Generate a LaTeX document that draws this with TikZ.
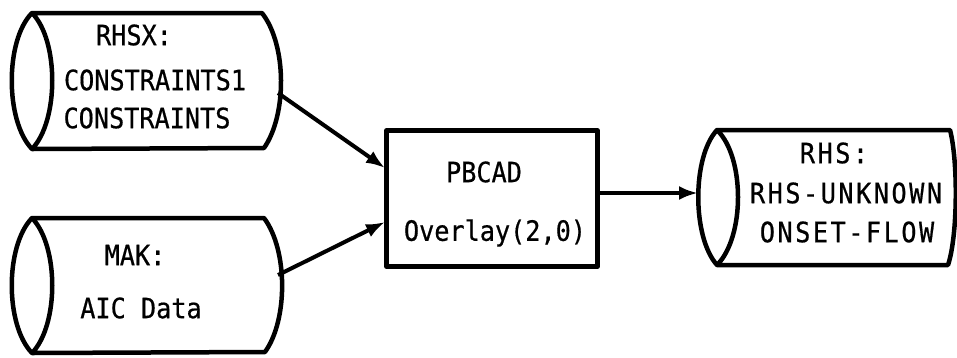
\documentclass[tikz,border=0pt]{standalone}
\usepackage{fontspec}
\newfontfamily\diagfont[FakeStretch=0.9,FakeBold=0.6]{DejaVu Sans Mono}
\newfontfamily\diagfontwide[FakeStretch=0.9,FakeBold=0.6,LetterSpace=9]{DejaVu Sans Mono}
\usetikzlibrary{arrows.meta}
\tikzset{
  outline/.style={line width=4.5pt, line join=round, line cap=round},
  lbl/.style={inner sep=0pt, font=\diagfont\fontsize{28}{30}\selectfont},
  lblwide/.style={inner sep=0pt, font=\diagfontwide\fontsize{28}{30}\selectfont},
  conn/.style={line width=4pt, -{Latex[length=19pt,width=14pt]}},
}
\begin{document}
\begin{tikzpicture}[x=1pt,y=-1pt]
\useasboundingbox (0,0) rectangle (957,357);
% cylinder 1
\draw[outline] (32,13) .. controls (5,40) and (5,121) .. (32,149)
  .. controls (59,121) and (59,40) .. (32,13) -- (262,13)
  .. controls (287,45) and (287,115) .. (264,148) -- (32,149);
% cylinder 2
\draw[outline] (32,218) .. controls (5,246) and (5,325) .. (32,353)
  .. controls (59,325) and (59,246) .. (32,218) -- (264,218)
  .. controls (288,250) and (288,320) .. (265,352) -- (32,353);
% cylinder 3
\draw[outline] (717,130) .. controls (692,157) and (692,237) .. (717,265)
  .. controls (745,237) and (745,157) .. (717,130) -- (950,130)
  .. controls (958,160) and (958,235) .. (948,265) -- (717,265);
% box
\node[draw, outline, minimum width=211pt, minimum height=136pt, inner sep=0pt] (box) at (492,198.5) {};
% labels
\node[lbl] (rhsx) at (134,35) {RHSX:};
\node[lbl] (c1) at (155,80) {CONSTRAINTS1};
\node[lbl] (c2) at (147,118) {CONSTRAINTS};
\node[lbl] (mak) at (135,255) {MAK:};
\node[lbl] (aic) at (141,308) {AIC Data};
\node[lbl] (pbcad) at (484,172) {PBCAD};
\node[lbl] (ovl) at (495,233) {Overlay(2,0)};
\node[lblwide] (rhs) at (834,153) {RHS:};
\node[lblwide] (unk) at (846,193) {RHS-UNKNOWN};
\node[lblwide] (onset) at (847,232) {ONSET-FLOW};
% connector endpoints
\coordinate (o1) at (278,93);
\coordinate (o2) at (278,275);
\coordinate (i1) at (385,168);
\coordinate (i2) at (385,222);
\coordinate (o3) at (598,193);
\coordinate (i3) at (698,193);
\draw[conn] (o1) -- (i1);
\draw[conn] (o2) -- (i2);
\draw[conn] (o3) -- (i3);
\end{tikzpicture}
\end{document}
